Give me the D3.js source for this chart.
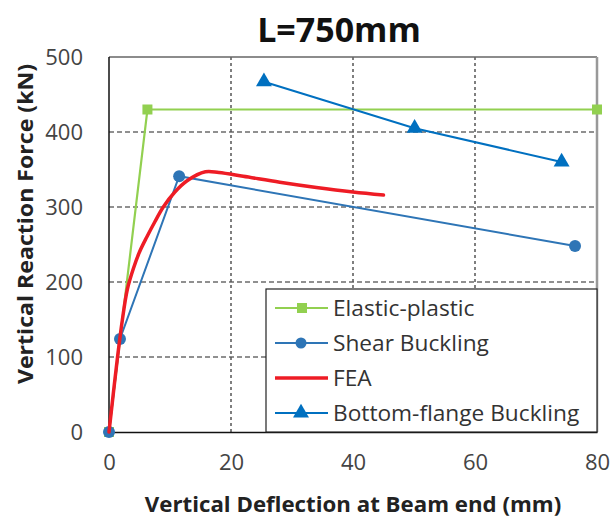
<!DOCTYPE html>
<html>
<head>
<meta charset="utf-8">
<script src="https://cdn.jsdelivr.net/npm/d3@7"></script>
<style>
  html, body { margin: 0; padding: 0; background: #fff; }
  svg { display: block; }
  text { font-family: "Open Sans", "Noto Sans", sans-serif; }
</style>
</head>
<body>
<svg id="chart" width="614" height="525"></svg>
<script>
// Load–deflection curves for the L = 750 mm beam
const elasticPlastic = [[0, 0], [6.3, 430], [80, 430]];
const shearBuckling = [[0, 0], [1.8, 124], [11.5, 341], [76.4, 248]];
const bottomFlange = [[25.4, 467], [50.1, 405], [74.2, 360]];
const fea = [[0, 0], [1.4, 100], [2.2, 150], [3.0, 190], [4.0, 218], [5.0, 240],
             [6.2, 260], [7.5, 280], [8.9, 300], [10.8, 320], [12.8, 335],
             [15.8, 347], [18, 346], [22, 341], [28, 333], [34, 326],
             [40, 320], [45, 316]];
const xTicks = [0, 20, 40, 60, 80];
const yTicks = [0, 100, 200, 300, 400, 500];
const legendLabels = ["Elastic-plastic", "Shear Buckling", "FEA", "Bottom-flange Buckling"];

const svg = d3.select("#chart");
const m = { left: 109, right: 597, top: 57, bottom: 432 };

const x = d3.scaleLinear().domain([0, 80]).range([m.left, m.right]);
const y = d3.scaleLinear().domain([0, 500]).range([m.bottom, m.top]);

const green = "#92D050", blueS = "#2E75B6", blueB = "#0070C0", red = "#EE1C25";

// Stretch a text node horizontally by a factor (wide label face)
function widen(sel, k) {
  sel.each(function () {
    const w = this.getComputedTextLength();
    d3.select(this).attr("textLength", w * k).attr("lengthAdjust", "spacingAndGlyphs");
  });
}

// Title
svg.append("text").attr("x", 339).attr("y", 42).attr("text-anchor", "middle")
  .attr("font-size", 34).attr("font-weight", "bold").attr("fill", "#111")
  .text("L=750mm");

// Grid lines
const grid = svg.append("g");
grid.selectAll("line.h").data(yTicks.filter(d => d > 0 && d < 500)).join("line")
  .attr("x1", m.left).attr("x2", m.right)
  .attr("y1", d => y(d)).attr("y2", d => y(d))
  .attr("stroke", "#222").attr("stroke-width", 1.2).attr("stroke-dasharray", "5,3");
grid.selectAll("line.v").data(xTicks.filter(d => d > 0 && d < 80)).join("line")
  .attr("y1", m.top).attr("y2", m.bottom)
  .attr("x1", d => x(d)).attr("x2", d => x(d))
  .attr("stroke", "#555").attr("stroke-width", 1.5).attr("stroke-dasharray", "3,3");

// Frame: top and right in grey, axes in black
svg.append("line").attr("x1", m.left).attr("x2", m.right).attr("y1", m.top).attr("y2", m.top)
  .attr("stroke", "#666").attr("stroke-width", 1.5);
svg.append("line").attr("x1", m.right).attr("x2", m.right).attr("y1", m.top).attr("y2", m.bottom)
  .attr("stroke", "#999").attr("stroke-width", 2.5);

// Axes
const xAxis = svg.append("g").attr("transform", `translate(0,${m.bottom})`)
  .call(d3.axisBottom(x).tickValues(xTicks).tickSize(0).tickPadding(22));
const yAxis = svg.append("g").attr("transform", `translate(${m.left},0)`)
  .call(d3.axisLeft(y).tickValues(yTicks).tickSize(0).tickPadding(26));
[xAxis, yAxis].forEach(a => {
  a.select(".domain").attr("stroke", "#111").attr("stroke-width", 1.5);
  a.selectAll("text").attr("font-size", 22).attr("fill", "#444")
    .attr("font-family", "'Open Sans', sans-serif");
});
yAxis.select(".domain").remove();
svg.append("line").attr("x1", m.left).attr("x2", m.left).attr("y1", m.top).attr("y2", m.bottom)
  .attr("stroke", "#111").attr("stroke-width", 1.5);

// Axis titles
svg.append("text").attr("x", 353).attr("y", 512).attr("text-anchor", "middle")
  .attr("font-size", 21).attr("font-weight", "bold").attr("fill", "#222")
  .text("Vertical Deflection at Beam end (mm)")
  .call(widen, 1.06);
svg.append("text").attr("transform", "translate(33,224) rotate(-90)").attr("text-anchor", "middle")
  .attr("font-size", 21).attr("font-weight", "bold").attr("fill", "#222")
  .text("Vertical Reaction Force (kN)")
  .call(widen, 1.1);

// Series
const line = d3.line().x(d => x(d[0])).y(d => y(d[1]));
const plot = svg.append("g");

plot.append("path").datum(elasticPlastic).attr("d", line)
  .attr("fill", "none").attr("stroke", green).attr("stroke-width", 2.2);
plot.selectAll("rect.ep").data(elasticPlastic).join("rect")
  .attr("x", d => x(d[0]) - 5).attr("y", d => y(d[1]) - 5)
  .attr("width", 10).attr("height", 10).attr("fill", green);

plot.append("path").datum(shearBuckling).attr("d", line)
  .attr("fill", "none").attr("stroke", blueS).attr("stroke-width", 2);
plot.selectAll("circle.sb").data(shearBuckling).join("circle")
  .attr("cx", d => x(d[0])).attr("cy", d => y(d[1])).attr("r", 6).attr("fill", blueS);

plot.append("path").datum(bottomFlange).attr("d", line)
  .attr("fill", "none").attr("stroke", blueB).attr("stroke-width", 2);
const tri = d3.symbol().type(d3.symbolTriangle).size(110);
plot.selectAll("path.bf").data(bottomFlange).join("path")
  .attr("d", tri).attr("transform", d => `translate(${x(d[0])},${y(d[1])})`).attr("fill", blueB);

const smooth = d3.line().x(d => x(d[0])).y(d => y(d[1])).curve(d3.curveCatmullRom.alpha(0.5));
plot.append("path").datum(fea).attr("d", smooth)
  .attr("fill", "none").attr("stroke", red).attr("stroke-width", 3.5)
  .attr("stroke-linecap", "round").attr("stroke-linejoin", "round");

// Legend
const lg = svg.append("g");
lg.append("rect").attr("x", 266).attr("y", 289).attr("width", 331).attr("height", 143)
  .attr("fill", "#fff").attr("stroke", "#222").attr("stroke-width", 1.2);
const rowY = [308, 343, 378, 413];
const rows = lg.selectAll("g.row").data(legendLabels).join("g")
  .attr("transform", (d, i) => `translate(0,${rowY[i]})`);
const legColors = [green, blueS, red, blueB];
rows.append("line").attr("x1", 275).attr("x2", 328).attr("y1", 0).attr("y2", 0)
  .attr("stroke", (d, i) => legColors[i]).attr("stroke-width", (d, i) => i === 2 ? 3.5 : 2);
rows.filter((d, i) => i === 0).append("rect").attr("x", 297).attr("y", -5)
  .attr("width", 10).attr("height", 10).attr("fill", green);
rows.filter((d, i) => i === 1).append("circle").attr("cx", 301).attr("cy", 0).attr("r", 5.5).attr("fill", blueS);
rows.filter((d, i) => i === 3).append("path").attr("d", tri).attr("transform", "translate(301,0)").attr("fill", blueB);
rows.append("text").attr("x", 333).attr("y", 0).attr("dy", "0.36em")
  .attr("font-size", 21).attr("fill", "#333").text(d => d)
  .call(widen, 1.08);
</script>
</body>
</html>
